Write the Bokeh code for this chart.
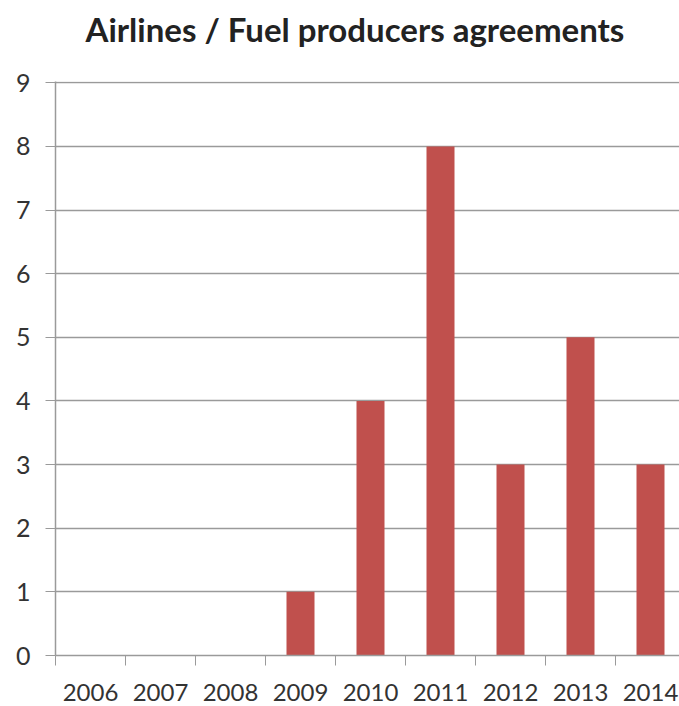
from bokeh.plotting import figure
from bokeh.models import Range1d, FixedTicker, ColumnDataSource, Title
from bokeh.embed import file_html
from bokeh.resources import INLINE

years = ["2006", "2007", "2008", "2009", "2010", "2011", "2012", "2013", "2014"]
agreements = [0, 0, 0, 1, 4, 8, 3, 5, 3]
y_ticks = [0, 1, 2, 3, 4, 5, 6, 7, 8, 9]
title_text = "Airlines / Fuel producers agreements"

W, H = 679, 706
left, right, top, bottom = 55, 0, 81, 51
unit = 70.0
x_end = (W - left - right) / unit

centers = [i + 0.5 for i in range(len(years))]
src = ColumnDataSource(dict(x=centers, top=agreements, year=years))

p = figure(width=W, height=H, output_backend="svg", toolbar_location=None,
           x_range=Range1d(0, x_end), y_range=Range1d(0, 9.02),
           min_border_left=left, min_border_right=right,
           min_border_top=top, min_border_bottom=bottom)
p.outline_line_color = None
p.background_fill_color = "white"
p.border_fill_color = "white"

# spacer between frame and title (nearest to frame)
spacer = Title(text=" ", text_font_size="1px", standoff=30, align="left")
p.add_layout(spacer, "above")
main_title = Title(text=title_text, align="left", offset=30, standoff=0,
                   text_font="Lato", text_font_style="bold",
                   text_font_size="33px", text_color="#222222",
                   vertical_align="bottom")
p.add_layout(main_title, "above")

p.vbar(x="x", top="top", width=0.4, source=src, fill_color="#C0504D", line_color=None)

grey = "#9a9a9a"
# x axis
xa = p.xaxis[0]
xa.ticker = FixedTicker(ticks=centers, minor_ticks=list(range(len(years) + 1)))
xa.major_label_overrides = {c: y for c, y in zip(centers, years)}
xa.major_tick_out = 0
xa.major_tick_in = 0
xa.minor_tick_out = 10
xa.minor_tick_in = 0
xa.minor_tick_line_color = grey
xa.axis_line_color = grey
xa.axis_line_width = 1.5
xa.major_label_text_font = "Lato"
xa.major_label_text_font_size = "24px"
xa.major_label_text_color = "#333333"
xa.major_label_standoff = 18

# y axis
ya = p.yaxis[0]
ya.ticker = FixedTicker(ticks=y_ticks)
ya.major_tick_out = 10
ya.major_tick_in = 0
ya.minor_tick_out = 0
ya.minor_tick_in = 0
ya.major_tick_line_color = grey
ya.axis_line_color = grey
ya.axis_line_width = 1.5
ya.major_label_text_font = "Lato"
ya.major_label_text_font_size = "25px"
ya.major_label_text_color = "#333333"
ya.major_label_standoff = 15

p.xgrid.grid_line_color = None
p.ygrid.ticker = FixedTicker(ticks=y_ticks[1:])
p.ygrid.grid_line_color = grey
p.ygrid.grid_line_width = 1.5

open("out.html", "w").write(file_html(p, INLINE))
